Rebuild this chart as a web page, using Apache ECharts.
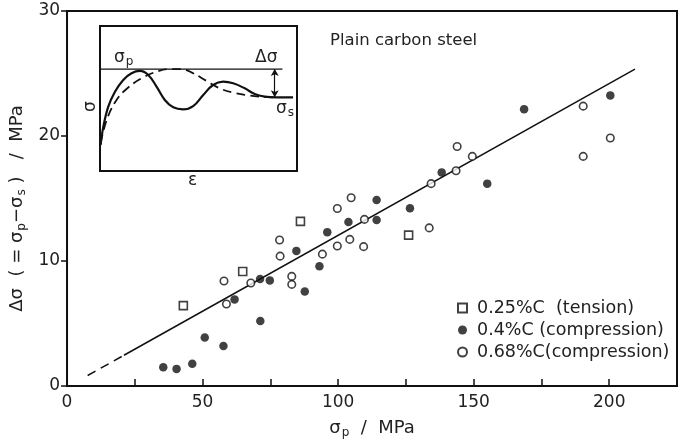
<!DOCTYPE html>
<html><head><meta charset="utf-8">
<script src="https://cdn.jsdelivr.net/npm/echarts@6/dist/echarts.min.js"></script>
<style>html,body{margin:0;padding:0;background:#fff}#c{width:691px;height:444px}</style>
</head><body><div id="c"></div>
<script>
// Main data (σp in MPa, Δσ in MPa)
const tensionX = [42.9, 64.8, 86.1, 126.0];
const tensionY = [6.43, 9.16, 13.17, 12.07];
const comp04X = [35.5, 40.4, 46.2, 50.8, 57.7, 61.8, 71.2, 74.8, 71.3, 84.6, 87.7, 93.1, 96.0, 103.8, 114.2, 114.2, 126.5, 138.2, 155.0, 168.6, 200.4];
const comp04Y = [1.50, 1.37, 1.78, 3.88, 3.20, 6.93, 8.56, 8.45, 5.20, 10.81, 7.56, 9.58, 12.31, 13.12, 14.88, 13.28, 14.22, 17.09, 16.19, 22.15, 23.25];
const comp068X = [57.9, 58.8, 67.8, 78.4, 78.6, 82.9, 82.9, 94.2, 99.7, 99.7, 104.3, 104.8, 109.7, 109.4, 133.6, 134.3, 143.5, 143.9, 149.5, 190.4, 190.4, 200.4];
const comp068Y = [8.40, 6.56, 8.24, 11.68, 10.39, 8.77, 8.13, 10.55, 14.2, 11.2, 11.73, 15.06, 13.33, 11.15, 12.65, 16.19, 17.22, 19.16, 18.37, 22.39, 18.37, 19.84];
// Fit line
const fitDashX = [7.6, 21.0];
const fitDashY = [0.84, 2.46];
const fitSolidX = [21.0, 209.5];
const fitSolidY = [2.46, 25.35];
// Tick labels
const xTickLabels = [0, 50, 100, 150, 200];
const yTickLabels = [0, 10, 20, 30];
// Legend names
const names = ['0.25%C  (tension)', '0.4%C (compression)', '0.68%C(compression)'];
// Inset schematic curves (normalized strain, normalized stress)
const insetSolidX = [0.003, 0.017, 0.042, 0.076, 0.118, 0.160, 0.203, 0.245, 0.287, 0.329, 0.372, 0.422, 0.473, 0.524, 0.574, 0.625, 0.676, 0.735, 0.785, 0.836, 0.895, 0.980];
const insetSolidY = [0.179, 0.306, 0.444, 0.547, 0.628, 0.674, 0.690, 0.662, 0.582, 0.490, 0.439, 0.425, 0.448, 0.524, 0.593, 0.616, 0.605, 0.570, 0.531, 0.513, 0.508, 0.508];
const insetDashX = [0.003, 0.034, 0.084, 0.144, 0.211, 0.287, 0.355, 0.414, 0.473, 0.541, 0.608, 0.676, 0.743, 0.811, 0.878];
const insetDashY = [0.191, 0.352, 0.490, 0.577, 0.639, 0.685, 0.703, 0.703, 0.674, 0.621, 0.570, 0.540, 0.524, 0.513, 0.508];
const peakLevel = 0.703, steadyLevel = 0.508, peakLineEnd = 0.926, arrowX = 0.887;

const zip = (a, b) => a.map((v, i) => [v, b[i]]);
const FONT = 'DejaVu Sans';
const chart = echarts.init(document.getElementById('c'), null, {renderer: 'canvas'});
chart.setOption({
  animation: false,
  backgroundColor: '#fff',
  textStyle: {fontFamily: FONT, color: '#222'},
  title: {text: 'Plain carbon steel', left: 325, top: 27,
    textStyle: {fontFamily: FONT, fontSize: 16.5, fontWeight: 'normal', color: '#222'}},
  legend: {
    data: names, orient: 'vertical', left: 452, top: 294, itemGap: 4,
    itemWidth: 9, itemHeight: 9,
    textStyle: {fontFamily: FONT, fontSize: 17.5, color: '#222', padding: [0, 0, 0, 5]}
  },
  grid: [
    {left: 66, right: 14, top: 11, bottom: 50, show: true, borderColor: '#111', borderWidth: 2},
    {left: 100, top: 26, width: 197, height: 145, show: true, borderColor: '#111', borderWidth: 2, backgroundColor: '#fff', z: 5}
  ],
  xAxis: [
    {type: 'value', gridIndex: 0, min: 0, max: 225, interval: 25,
      name: '{a|σ}{b|p}{a|  /  MPa}', nameLocation: 'middle', nameGap: 32,
      nameTextStyle: {rich: {a: {fontSize: 18, fontFamily: FONT, color: '#222'}, b: {fontSize: 12, fontFamily: FONT, color: '#222', padding: [9, 0, 0, 1]}}},
      axisLine: {lineStyle: {color: '#111', width: 2}},
      axisTick: {inside: true, length: 7, lineStyle: {color: '#111', width: 1.5}},
      axisLabel: {fontSize: 17, color: '#222', margin: 8, fontFamily: FONT,
        formatter: v => xTickLabels.includes(v) ? String(v) : ''},
      splitLine: {show: false}},
    {type: 'value', gridIndex: 1, min: 0, max: 1, show: false}
  ],
  yAxis: [
    {type: 'value', gridIndex: 0, min: 0, max: 30, interval: 10,
      name: '{a|Δσ  ( = σ}{b|p}{a|−σ}{b|s}{a| )   /  MPa}', nameLocation: 'middle', nameGap: 33, nameRotate: 90,
      nameTextStyle: {padding: [0, 20, 0, 0], rich: {a: {fontSize: 18, fontFamily: FONT, color: '#222'}, b: {fontSize: 12, fontFamily: FONT, color: '#222', padding: [9, 0, 0, 1]}}},
      axisLine: {show: true, lineStyle: {color: '#111', width: 2}},
      axisTick: {show: true, inside: false, length: 6, lineStyle: {color: '#111', width: 1.5}},
      axisLabel: {fontSize: 17, color: '#222', margin: 7, fontFamily: FONT,
        formatter: v => yTickLabels.includes(v) ? String(v) : ''},
      splitLine: {show: false}},
    {type: 'value', gridIndex: 1, min: 0, max: 1, show: false}
  ],
  graphic: [
    {type: 'text', left: 114, top: 49, z: 100, style: {text: '{a|σ}{b|p}', rich: {a: {fontSize: 17, fontFamily: FONT, fill: '#222'}, b: {fontSize: 12, fontFamily: FONT, fill: '#222', padding: [9, 0, 0, 1]}}}},
    {type: 'text', left: 255, top: 49, z: 100, style: {text: 'Δσ', fontSize: 17, fontFamily: FONT, fill: '#222'}},
    {type: 'text', left: 276, top: 100, z: 100, style: {text: '{a|σ}{b|s}', rich: {a: {fontSize: 17, fontFamily: FONT, fill: '#222'}, b: {fontSize: 12, fontFamily: FONT, fill: '#222', padding: [9, 0, 0, 1]}}}},
    {type: 'text', x: 82, y: 112, rotation: Math.PI / 2, z: 100, style: {text: 'σ', fontSize: 17, fontFamily: FONT, fill: '#222'}},
    {type: 'text', left: 188, top: 172, z: 100, style: {text: 'ε', fontSize: 17, fontFamily: FONT, fill: '#222'}}
  ],
  series: [
    {name: 'fitDash', type: 'line', xAxisIndex: 0, yAxisIndex: 0, data: zip(fitDashX, fitDashY), symbol: 'none',
      lineStyle: {color: '#111', width: 1.5, type: [9, 6]}, z: 2},
    {name: 'fitSolid', type: 'line', xAxisIndex: 0, yAxisIndex: 0, data: zip(fitSolidX, fitSolidY), symbol: 'none',
      lineStyle: {color: '#111', width: 1.5}, z: 2},
    {name: names[0], type: 'scatter', xAxisIndex: 0, yAxisIndex: 0, data: zip(tensionX, tensionY), symbol: 'rect', symbolSize: 8,
      itemStyle: {color: '#fff', borderColor: '#111', borderWidth: 1.6}, z: 4},
    {name: names[1], type: 'scatter', xAxisIndex: 0, yAxisIndex: 0, data: zip(comp04X, comp04Y), symbol: 'circle', symbolSize: 8.5,
      itemStyle: {color: '#111', borderColor: '#111', borderWidth: 0}, z: 4},
    {name: names[2], type: 'scatter', xAxisIndex: 0, yAxisIndex: 0, data: zip(comp068X, comp068Y), symbol: 'circle', symbolSize: 7.5,
      itemStyle: {color: '#fff', borderColor: '#111', borderWidth: 1.6}, z: 4},
    {name: 'insetSolid', type: 'line', xAxisIndex: 1, yAxisIndex: 1, data: zip(insetSolidX, insetSolidY), symbol: 'none', smooth: 0.4,
      lineStyle: {color: '#111', width: 2.2}, z: 10},
    {name: 'insetDash', type: 'line', xAxisIndex: 1, yAxisIndex: 1, data: zip(insetDashX, insetDashY), symbol: 'none', smooth: 0.4,
      lineStyle: {color: '#111', width: 1.8, type: [9, 5]}, z: 10},
    {name: 'peakLine', type: 'line', xAxisIndex: 1, yAxisIndex: 1, data: [[0, peakLevel], [peakLineEnd, peakLevel]], symbol: 'none',
      lineStyle: {color: '#111', width: 1.2}, z: 10,
      markLine: {silent: true, symbol: ['arrow', 'arrow'], symbolSize: [6, 7], label: {show: false},
        lineStyle: {color: '#111', width: 1.2, type: 'solid'},
        data: [[{coord: [arrowX, peakLevel]}, {coord: [arrowX, steadyLevel]}]]}}
  ]
});
</script></body></html>
